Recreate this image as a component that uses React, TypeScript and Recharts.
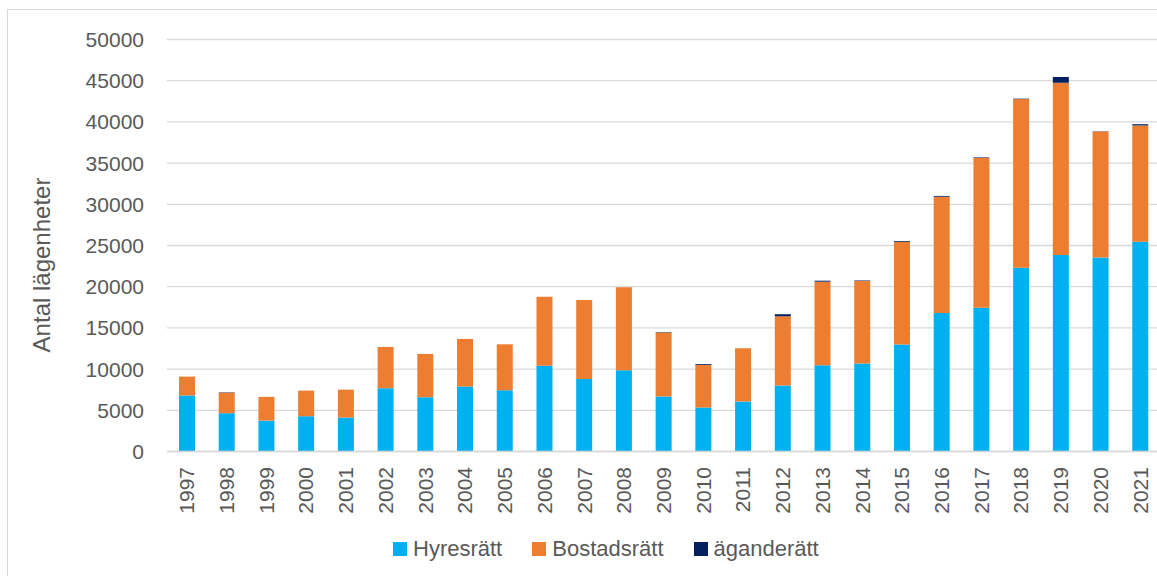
import { BarChart, Bar, XAxis, YAxis, CartesianGrid, Legend } from 'recharts';

const years = [
    '1997', '1998', '1999', '2000', '2001', '2002', '2003', '2004', '2005',
    '2006', '2007', '2008', '2009', '2010', '2011', '2012', '2013', '2014',
    '2015', '2016', '2017', '2018', '2019', '2020', '2021',
];

const hyresratt = [
    6800, 4650, 3750, 4280, 4120, 7680, 6590, 7880, 7430, 10420, 8810, 9860,
    6670, 5340, 6060, 8000, 10470, 10670, 12980, 16820, 17460, 22310, 23850, 23530, 25470,
];

const bostadsratt = [
    2290, 2500, 2880, 3110, 3390, 5010, 5250, 5780, 5580, 8370, 9570, 10060,
    7760, 5170, 6470, 8410, 10140, 10030, 12440, 14100, 18190, 20460, 20900, 15310, 14100,
];

const aganderatt = [
    0, 40, 0, 0, 0, 0, 0, 0, 0, 0, 0, 0,
    50, 100, 0, 250, 120, 60, 100, 100, 60, 50, 700, 30, 150,
];

const yTicks = [0, 5000, 10000, 15000, 20000, 25000, 30000, 35000, 40000, 45000, 50000];

const seriesNames = ['Hyresrätt', 'Bostadsrätt', 'äganderätt'];

const COLORS = {
    hyres: '#00B0F0',
    bostad: '#ED7D31',
    agande: '#002060',
};

const FONT = '"Liberation Sans", Arial, sans-serif';
const TEXT = '#595959';
const GRID = '#d9d9d9';

const chartData = years.map((year, i) => ({
    year,
    hyresratt: hyresratt[i],
    bostadsratt: bostadsratt[i],
    aganderatt: aganderatt[i],
}));

function YTick({ x, y, payload }: any) {
    return (
        <text x={x - 23} y={y} dy="0.355em" textAnchor="end" fill={TEXT} fontSize={21} fontFamily={FONT}>
            {payload.value}
        </text>
    );
}

function XTick({ x, y, payload }: any) {
    const ty = y + 15.5;
    return (
        <text
            x={x}
            y={ty}
            dy="0.355em"
            textAnchor="end"
            transform={`rotate(-90 ${x} ${ty})`}
            fill={TEXT}
            fontSize={21}
            fontFamily={FONT}
        >
            {payload.value}
        </text>
    );
}

function LegendContent({ payload }: any) {
    // keep the series order instead of recharts' default sorting
    const items = [...(payload || [])].sort(
        (a: any, b: any) => seriesNames.indexOf(a.value) - seriesNames.indexOf(b.value)
    );
    return (
        <div style={{ display: 'flex', alignItems: 'center', fontFamily: FONT, fontSize: 22, color: TEXT }}>
            {items.map((entry: any) => (
                <div key={entry.value} style={{ display: 'flex', alignItems: 'center', marginRight: 30 }}>
                    <span style={{ width: 14, height: 14, background: entry.color, marginRight: 6, display: 'inline-block' }} />
                    <span style={{ lineHeight: '22px' }}>{entry.value}</span>
                </div>
            ))}
        </div>
    );
}

export default function App() {
    return (
        <div style={{ position: 'absolute', left: 0, top: 0, width: 1157, height: 576, overflow: 'hidden', background: '#fff' }}>
            <div
                style={{
                    position: 'absolute',
                    left: 7,
                    top: 9,
                    width: 1200,
                    height: 620,
                    border: `1px solid ${GRID}`,
                }}
            />
            <div style={{ position: 'absolute', left: 0, top: 0 }}>
                <BarChart
                    width={1170}
                    height={576}
                    data={chartData}
                    margin={{ top: 39.5, right: 10, bottom: 4.5, left: 0 }}
                    barSize={16}
                >
                    <CartesianGrid vertical={false} stroke={GRID} strokeWidth={1.3} />
                    <XAxis
                        dataKey="year"
                        interval={0}
                        height={120}
                        tickLine={false}
                        tickSize={0}
                        tickMargin={0}
                        axisLine={{ stroke: GRID, strokeWidth: 1.3 }}
                        tick={<XTick />}
                    />
                    <YAxis
                        width={167}
                        domain={[0, 50000]}
                        ticks={yTicks}
                        interval={0}
                        axisLine={false}
                        tickLine={false}
                        tickSize={0}
                        tickMargin={0}
                        tick={<YTick />}
                        label={{
                            content: () => (
                                <text
                                    x={0}
                                    y={0}
                                    transform="translate(50 265) rotate(-90)"
                                    textAnchor="middle"
                                    fill={TEXT}
                                    fontSize={24}
                                    fontFamily={FONT}
                                >
                                    Antal lägenheter
                                </text>
                            ),
                        }}
                    />
                    <Legend
                        verticalAlign="middle"
                        align="center"
                        layout="horizontal"
                        wrapperStyle={{ left: 393, top: 538, width: 'auto' }}
                        content={<LegendContent />}
                    />
                    <Bar dataKey="hyresratt" name={seriesNames[0]} stackId="a" fill={COLORS.hyres} isAnimationActive={false} />
                    <Bar dataKey="bostadsratt" name={seriesNames[1]} stackId="a" fill={COLORS.bostad} isAnimationActive={false} />
                    <Bar dataKey="aganderatt" name={seriesNames[2]} stackId="a" fill={COLORS.agande} isAnimationActive={false} />
                </BarChart>
            </div>
        </div>
    );
}
